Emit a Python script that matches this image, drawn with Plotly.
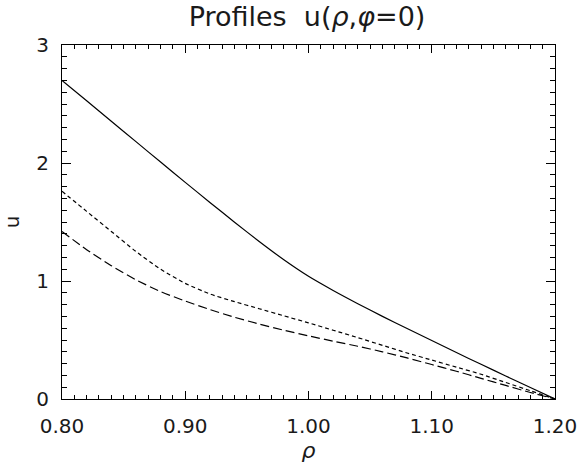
import plotly.graph_objects as go

rho = [0.80, 0.82, 0.84, 0.86, 0.88, 0.90, 0.92, 0.94, 0.96, 0.98, 1.00,
       1.02, 1.04, 1.06, 1.08, 1.10, 1.12, 1.14, 1.16, 1.18, 1.20]

u_solid = [2.70, 2.527, 2.354, 2.181, 2.008, 1.836, 1.666, 1.498, 1.335, 1.18, 1.04,
           0.92, 0.808, 0.70, 0.597, 0.496, 0.394, 0.294, 0.195, 0.097, 0.00]

u_short = [1.76, 1.59, 1.42, 1.25, 1.10, 0.98, 0.89, 0.825, 0.765, 0.705, 0.645,
           0.583, 0.52, 0.455, 0.39, 0.33, 0.27, 0.21, 0.14, 0.07, 0.00]

u_long = [1.42, 1.265, 1.13, 1.01, 0.91, 0.83, 0.758, 0.693, 0.635, 0.583, 0.535,
          0.49, 0.447, 0.40, 0.348, 0.292, 0.235, 0.175, 0.115, 0.055, 0.00]

x_ticks = [0.80, 0.90, 1.00, 1.10, 1.20]
x_tick_labels = ["0.80", "0.90", "1.00", "1.10", "1.20"]
y_ticks = [0, 1, 2, 3]
y_tick_labels = ["0", "1", "2", "3"]

FONT = "DejaVu Sans"
INK = "#1a1a1a"

W, H = 580, 470

fig = go.Figure()
fig.add_trace(go.Scatter(x=rho, y=u_solid, mode="lines",
                         line=dict(color="black", width=1.2, dash="solid",
                                   shape="spline", smoothing=0.6),
                         showlegend=False))
fig.add_trace(go.Scatter(x=rho, y=u_short, mode="lines",
                         line=dict(color="black", width=1.2, dash="4px,3px",
                                   shape="spline", smoothing=0.6),
                         showlegend=False))
fig.add_trace(go.Scatter(x=rho, y=u_long, mode="lines",
                         line=dict(color="black", width=1.2, dash="9px,4px",
                                   shape="spline", smoothing=0.6),
                         showlegend=False))

fig.update_layout(
    width=W, height=H,
    margin=dict(l=62, r=25, t=45, b=71),
    paper_bgcolor="white", plot_bgcolor="white",
    font=dict(family=FONT, size=20, color=INK),
    title=dict(text="Profiles  u(<i>ρ</i>,<i>φ</i>=0)", x=307 / W, xanchor="center",
               xref="container",
               y=1 - 17 / H, yanchor="middle", yref="container",
               font=dict(family=FONT, size=27, color=INK)),
)

fig.update_xaxes(
    range=[0.8, 1.2], tickmode="array", tickvals=x_ticks, ticktext=x_tick_labels,
    automargin=False,
    showgrid=False, zeroline=False, showline=True, linecolor="black", linewidth=1.2,
    mirror="ticks", ticks="inside", ticklen=8, tickwidth=1, tickcolor="black",
    ticklabelstandoff=9,
    minor=dict(dtick=0.01, ticks="inside", ticklen=4, tickwidth=1, tickcolor="black",
               showgrid=False),
    title=dict(text="<i>ρ</i>", standoff=0, font=dict(family=FONT, size=22, color=INK)),
)
fig.update_yaxes(
    range=[0, 3], tickmode="array", tickvals=y_ticks, ticktext=y_tick_labels,
    automargin=False,
    showgrid=False, zeroline=False, showline=True, linecolor="black", linewidth=1.2,
    mirror="ticks", ticks="inside", ticklen=9, tickwidth=1, tickcolor="black",
    ticklabelstandoff=8,
    minor=dict(dtick=0.1, ticks="inside", ticklen=5, tickwidth=1, tickcolor="black",
               showgrid=False),
    title=dict(text="u", standoff=12, font=dict(family=FONT, size=20, color=INK)),
)

# remove the browser's default 8px page margin so the figure fills the window
fig.write_html("out.html", config={"displayModeBar": False},
               post_script="document.body.style.margin='0';")
